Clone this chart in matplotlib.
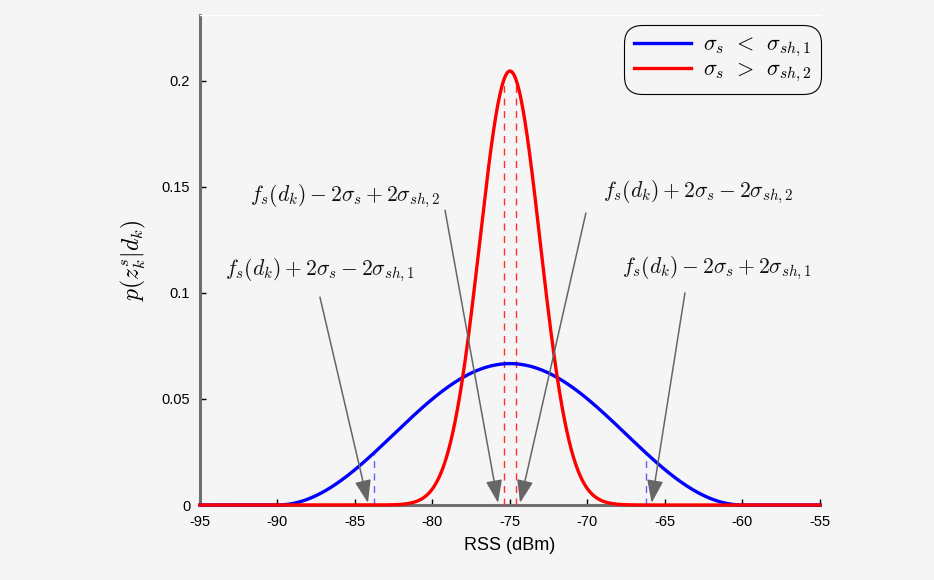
import numpy as np
import matplotlib
matplotlib.use("Agg")
import matplotlib.pyplot as plt

# ---- data ----
mean_rss = -75.0
blue_halfwidth = 15.0      # raised-cosine support half width (sigma_s < sigma_sh,1)
red_sigma = 1.95           # Gaussian std (sigma_s > sigma_sh,2)
blue_dash_x = [-83.8, -66.2]
red_dash_x = [-75.4, -74.6]
xticks = [-95, -90, -85, -80, -75, -70, -65, -60, -55]
yticks = [0, 0.05, 0.1, 0.15, 0.2]
ytick_labels = ["0", "0.05", "0.1", "0.15", "0.2"]
legend_labels = [r"$\sigma_s\,\;<\;\,\sigma_{sh,1}$", r"$\sigma_s\,\;>\;\,\sigma_{sh,2}$"]
ann_texts = [r"$f_s(d_k) + 2\sigma_s - 2\sigma_{sh,1}$",
             r"$f_s(d_k) - 2\sigma_s + 2\sigma_{sh,2}$",
             r"$f_s(d_k) + 2\sigma_s - 2\sigma_{sh,2}$",
             r"$f_s(d_k) - 2\sigma_s + 2\sigma_{sh,1}$"]
ann_text_xy = [(-87.26, 0.1108), (-85.65, 0.1453), (-62.87, 0.1472), (-61.65, 0.1118)]
ann_start = [(-87.26, 0.098), (-79.19, 0.139), (-70.10, 0.1377), (-63.71, 0.100)]
ann_tip = [(-84.16, 0.001), (-75.77, 0.001), (-74.35, 0.001), (-65.86, 0.001)]


def blue_pdf(x):
    d = np.abs(x - mean_rss)
    v = (1 + np.cos(np.pi * d / blue_halfwidth)) / (2 * blue_halfwidth)
    return np.where(d <= blue_halfwidth, v, 0.0)


def red_pdf(x):
    return np.exp(-0.5 * ((x - mean_rss) / red_sigma) ** 2) / (red_sigma * np.sqrt(2 * np.pi))


plt.rcParams['mathtext.fontset'] = 'cm'
plt.rcParams['axes.unicode_minus'] = False
plt.rcParams['font.family'] = ['Liberation Sans', 'DejaVu Sans']

bg = '#f5f5f5'
fig = plt.figure(figsize=(9.34, 5.80), dpi=100, facecolor=bg)
ax = fig.add_axes([0.2141, 0.1293, 0.6638, 0.8448])
ax.set_facecolor(bg)

x = np.linspace(-95, -55, 2001)
ax.plot(x, blue_pdf(x), color='#0000ff', lw=2.4, zorder=4, label=legend_labels[0], clip_on=False)
ax.plot(x, red_pdf(x), color='#ff0000', lw=2.4, zorder=4, label=legend_labels[1], clip_on=False)

for xd in blue_dash_x:
    ax.plot([xd, xd], [0, blue_pdf(np.array(xd))], color='#6060ff', lw=1.0,
            dashes=(5, 4), zorder=3)
for xd in red_dash_x:
    ax.plot([xd, xd], [0, red_pdf(np.array(xd))], color='#ff3030', lw=1.0,
            dashes=(5, 4), zorder=3)

for t, txy in zip(ann_texts, ann_text_xy):
    ax.text(txy[0], txy[1], t, fontsize=15.5, ha='center', va='center', color='#111111')
for s, e in zip(ann_start, ann_tip):
    ax.annotate('', xy=e, xytext=s,
                arrowprops=dict(arrowstyle='-|>,head_length=1.4,head_width=0.5',
                                color='#666666', lw=1.1, shrinkA=0, shrinkB=0),
                zorder=6)

ax.set_xlim(-95, -55)
ax.set_ylim(0, 0.231)
ax.set_xticks(xticks)
ax.set_yticks(yticks)
ax.set_yticklabels(ytick_labels)
ax.tick_params(direction='in', length=4, width=1, colors='black', labelsize=10.5, pad=7)

ax.spines['right'].set_visible(False)
ax.spines['top'].set_color('white')
ax.spines['top'].set_linewidth(1)
for side in ['left', 'bottom']:
    ax.spines[side].set_color('#6f6f6f')
    ax.spines[side].set_linewidth(2.2)

ax.set_xlabel('RSS (dBm)', fontsize=13, labelpad=6)
ax.set_ylabel(r'$p(z_k^s|d_k)$', fontsize=17, labelpad=10)

leg = ax.legend(loc='upper right', bbox_to_anchor=(1.004, 0.983), fontsize=16.0,
                frameon=True, fancybox=True, edgecolor='black', facecolor=bg,
                handlelength=2.6, handletextpad=0.5, borderpad=0.0, labelspacing=0.0,
                framealpha=1)
leg.get_frame().set_linewidth(0.8)
leg.get_frame().set_boxstyle('round,pad=0.42,rounding_size=0.8')

fig.savefig('out.png', dpi=100, facecolor=bg)
